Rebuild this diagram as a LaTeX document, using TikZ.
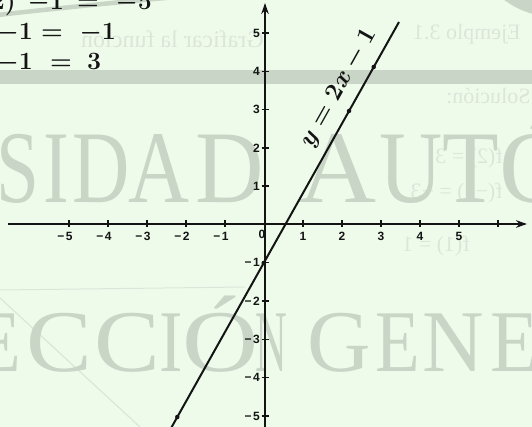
\documentclass[tikz,border=0pt]{standalone}
\usepackage{fontspec}
\usepackage{graphicx}
\usetikzlibrary{arrows.meta}
\newfontfamily\wmfont{Liberation Serif}
\newfontfamily\lblfont{Liberation Sans}
\definecolor{bg}{HTML}{EEFBEB}
\definecolor{wm}{HTML}{C9D5C6}
\definecolor{ghost}{HTML}{DCE5D9}
\definecolor{ink}{HTML}{141414}
\begin{document}
\begin{tikzpicture}[x=1pt,y=-1pt,
  wmA/.style={anchor=base, inner sep=0, text=wm, font=\wmfont\fontsize{103}{103}\selectfont},
  wmB/.style={anchor=base, inner sep=0, text=wm, font=\wmfont\fontsize{88}{88}\selectfont},
  ghosttxt/.style={inner sep=0, text=ghost, xscale=-1, font=\wmfont\fontsize{22}{22}\selectfont},
  axisline/.style={line width=2.2pt, draw=ink, -{Stealth[length=11pt,width=7.5pt]}},
  tickmark/.style={line width=1.4pt, draw=ink},
  lbl/.style={inner sep=0, text=ink, font=\lblfont\bfseries\fontsize{12}{12}\selectfont},
  eqtxt/.style={inner sep=0, anchor=base, text=ink, font=\fontsize{26}{26}\selectfont\boldmath},
  fline/.style={line width=2pt, draw=ink},
  ptdot/.style={circle, fill=ink, inner sep=0, minimum size=4.5pt}
]
\useasboundingbox (0,0) rectangle (532,427);
\clip (0,0) rectangle (532,427);
\fill[bg] (0,0) rectangle (532,427);

% faint bleed-through from the reverse page (mirrored)
\node[ghosttxt, anchor=east] (g1) at (413,34) {Ejemplo 3.1};
\node[ghosttxt, anchor=west, font=\wmfont\fontsize{24}{24}\selectfont] (g2) at (264,39) {Graficar la función};
\node[ghosttxt, anchor=east] (g3) at (446,96) {Solución:};
\node[ghosttxt, anchor=west] (g4) at (503,158) {f(2) = 3};
\node[ghosttxt, anchor=west] (g5) at (503,193) {f(−1) = −3};
\node[ghosttxt, anchor=west] (g6) at (470,246) {f(1) = 1};
\coordinate (ga) at (0,290); \coordinate (gb) at (245,287);
\coordinate (gc) at (0,298); \coordinate (gd) at (140,427);
\draw[ghost, line width=1pt] (ga) -- (gb);
\draw[ghost, line width=1.2pt] (gc) -- (gd);

% watermark
\fill[wm] (0,70.5) rectangle (532,84);
\coordinate (a1) at (-2,15); \coordinate (a2) at (176,-3);
\draw[wm, line width=4.5pt] (a1) .. controls (50,9) and (110,3) .. (a2);
\coordinate (r1) at (503,-1); \coordinate (r2) at (533,14);
\fill[wm] (r1) .. controls (512,6) and (522,11) .. (r2) -- (533,-1) -- cycle;

\node[wmA] (w1) at (18,203) {\scalebox{0.75}[1]{S}};
\node[wmA] (w2) at (56,203) {\scalebox{0.75}[1]{I}};
\node[wmA] (w3) at (101,203) {\scalebox{0.77}[1]{D}};
\node[wmA] (w4) at (159,203) {\scalebox{0.82}[1]{A}};
\node[wmA] (w5) at (230,203) {\scalebox{0.92}[1]{D}};
\node[wmA] (w6) at (338,203) {\scalebox{1.05}[1]{A}};
\node[wmA] (w7) at (411,203) {\scalebox{0.85}[1]{U}};
\node[wmA] (w8) at (471,203) {\scalebox{0.9}[1]{T}};
\node[wmA] (w9) at (537,203) {Ó};

\node[wmB] (v1) at (-2,371) {\scalebox{0.85}[1]{E}};
\node[wmB] (v2) at (59,371) {\scalebox{1.12}[1]{C}};
\node[wmB] (v3) at (127,371) {\scalebox{1.12}[1]{C}};
\node[wmB] (v4) at (171,371) {\scalebox{0.8}[1]{I}};
\node[wmB] (v5) at (221,371) {\scalebox{1.2}[1]{Ó}};
\node[wmB] (v6) at (271,371) {\scalebox{0.5}[1]{N}};
\node[wmB] (v7) at (339,371) {G};
\node[wmB] (v8) at (398,371) {\scalebox{0.83}[1]{E}};
\node[wmB] (v9) at (453,371) {\scalebox{0.97}[1]{N}};
\node[wmB] (v10) at (515,371) {\scalebox{0.9}[1]{E}};

% text lines top-left
\node[eqtxt, anchor=base east] (t1a) at (16,10) {$2)$};
\node[eqtxt, anchor=base east] (t1b) at (64,10) {$-1$};
\node[eqtxt] (t1c) at (88,10) {$=$};
\node[eqtxt, anchor=base east] (t1d) at (152,10) {$-5$};
\node[eqtxt, anchor=base east] (t2a) at (33,40) {$-1$};
\node[eqtxt] (t2b) at (52,40) {$=$};
\node[eqtxt, anchor=base east] (t2c) at (116,40) {$-1$};
\node[eqtxt, anchor=base east] (t3a) at (33,70) {$-1$};
\node[eqtxt] (t3b) at (61,70) {$=$};
\node[eqtxt] (t3c) at (94,70) {$3$};

% axes
\coordinate (xs) at (8,224); \coordinate (xe) at (527,224);
\coordinate (ys) at (265,432); \coordinate (ye) at (265,3);
\draw[axisline] (xs) -- (xe);
\draw[axisline] (ys) -- (ye);

\foreach \k in {-5,...,-1,1,2,3,4,5,6} {
  \pgfmathsetmacro\xx{264+39*\k}
  \draw[tickmark] (\xx,220.5) -- (\xx,227.5);
}
\foreach \k in {-5,...,-1} {
  \pgfmathsetmacro\xx{264+39*\k+3.8}
  \pgfmathtruncatemacro\ak{abs(\k)}
  \node[lbl, anchor=north east] (xl\ak) at (\xx,232) {−\kern1.5pt\ak};
}
\foreach \k in {1,...,5} {
  \pgfmathsetmacro\xx{264+39*\k}
  \node[lbl, anchor=north] (xp\k) at (\xx,232) {\k};
}
\node[lbl, anchor=north] (x0) at (262,230) {0};

\foreach \k in {-5,...,-1,1,2,3,4,5} {
  \pgfmathsetmacro\yy{224.5-38.3*\k}
  \draw[tickmark] (261.5,\yy) -- (268.5,\yy);
}
\foreach \k in {1,...,5} {
  \pgfmathsetmacro\yy{224.5-38.3*\k}
  \node[lbl, anchor=east] (yp\k) at (260,\yy) {\k};
}
\foreach \k in {-5,...,-1} {
  \pgfmathsetmacro\yy{224.5-38.3*\k}
  \pgfmathtruncatemacro\ak{abs(\k)}
  \node[lbl, anchor=east] (yn\ak) at (260,\yy) {−\kern1.5pt\ak};
}

% the graph y = 2x - 1
\coordinate (lb) at (170,430); \coordinate (lt) at (399,22);
\draw[fline] (lb) -- (lt);
\node[ptdot] (p1) at (373.7,67) {};
\node[ptdot] (p2) at (349.0,111) {};
\node[ptdot] (p3) at (263.7,263) {};
\node[ptdot] (p4) at (177.3,417) {};
\node[inner sep=0, text=ink, rotate=60.7, font=\fontsize{24}{24}\selectfont\boldmath] (eq) at (339,88) {$y = 2x - 1$};
\end{tikzpicture}
\end{document}
